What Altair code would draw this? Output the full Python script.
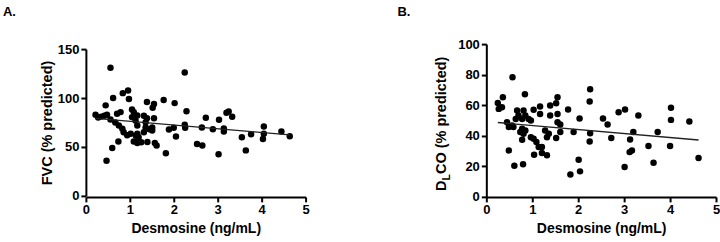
import altair as alt
import pandas as pd

# Panel A: FVC (% predicted) against plasma desmosine (ng/mL)
fvc_desmosine = [0.22, 0.28, 0.35, 0.42, 0.48, 0.45, 0.47, 0.56, 0.56, 0.60,
                 0.62, 0.67, 0.71, 0.74, 0.75, 0.79, 0.83, 0.84, 0.86, 0.94,
                 0.96, 0.98, 1.02, 1.05, 1.05, 1.09, 1.09, 1.13, 1.14, 1.17,
                 1.17, 1.17, 1.17, 1.20, 1.26, 1.32, 1.32, 1.36, 1.36, 1.39,
                 1.39, 1.40, 1.45, 1.51, 1.51, 1.52, 1.55, 1.55, 1.57, 1.61,
                 1.77, 1.82, 1.89, 2.00, 2.02, 2.05, 2.25, 2.25, 2.26, 2.29,
                 2.53, 2.65, 2.64, 2.73, 2.89, 3.02, 3.03, 3.14, 3.14, 3.20,
                 3.25, 3.33, 3.55, 3.64, 3.76, 4.03, 4.05, 4.05, 4.45, 4.64]
fvc_pct = [83, 80, 81, 82, 83, 92.5, 36, 131, 78, 49,
           100, 75, 84, 55.5, 72, 85.6, 68.5, 105, 65, 62,
           107.6, 99, 63.4, 88.4, 80.5, 85.6, 55.5, 77, 61.5, 82.2,
           72, 63.4, 54, 60, 54.8, 82, 65, 75.3, 70, 79.4,
           96, 55, 68, 70, 66.8, 90, 94, 79.4, 54, 51.4,
           98, 43.5, 67.8, 69.6, 94.8, 60.6, 126, 72.6, 69.6, 86.6,
           53, 51.4, 69.9, 79.8, 68, 42.5, 77.8, 69, 65.8, 85,
           86.3, 80.9, 60, 46.5, 63, 58.2, 63.4, 70.9, 65.8, 61]

# Panel B: DLCO (% predicted) against plasma desmosine (ng/mL)
dlco_desmosine = [0.25, 0.27, 0.36, 0.34, 0.57, 0.45, 0.49, 0.56, 0.59, 0.49,
                  0.61, 0.80, 0.84, 0.67, 0.70, 0.64, 0.81, 0.85, 0.78, 0.78,
                  0.74, 0.81, 0.85, 0.78, 0.92, 0.97, 1.03, 1.17, 1.17, 0.97,
                  1.03, 1.09, 1.14, 1.21, 1.21, 1.04, 1.32, 1.28, 1.36, 1.32,
                  1.39, 1.52, 1.55, 1.39, 1.55, 1.55, 1.61, 1.61, 1.52, 1.78,
                  1.90, 2.03, 2.01, 2.04, 1.83, 2.26, 2.25, 2.26, 2.25, 2.54,
                  2.64, 2.72, 2.88, 3.02, 3.01, 3.13, 3.12, 3.17, 3.20, 3.31,
                  3.53, 3.64, 3.73, 4.02, 4.02, 4.00, 4.42, 4.62]
dlco_pct = [61.5, 57.6, 65.2, 58.7, 78.3, 48.9, 45.7, 46.7, 45.7, 30.4,
            20.4, 21.3, 67.2, 56.5, 53.3, 51, 56.5, 53.3, 51, 44.6,
            42.4, 41.3, 43.5, 37.4, 51, 50, 57, 59.1, 54.3, 39,
            38, 35.9, 32.6, 32.6, 28.7, 27.6, 27.2, 43.5, 41.3, 39,
            59.8, 61.3, 65.2, 53.3, 54.3, 48.9, 47.4, 42.4, 38.5, 57.2,
            42.4, 51.3, 24.3, 16.7, 14.6, 70.4, 62.4, 41.7, 36.3, 51.3,
            47.4, 38.5, 55.4, 57.2, 19.6, 37.6, 29.3, 30.4, 42.4, 53.3,
            33.3, 22.4, 42.4, 58.3, 50.4, 33.3, 49.3, 25.4]

FONT = "Liberation Sans"
INK = "black"

fvc_df = pd.DataFrame({"desmosine": fvc_desmosine, "value": fvc_pct})
dlco_df = pd.DataFrame({"desmosine": dlco_desmosine, "value": dlco_pct})


def x_enc():
    return alt.X(
        "desmosine:Q",
        scale=alt.Scale(domain=[0, 5], nice=False),
        axis=alt.Axis(values=[0, 1, 2, 3, 4, 5], title="Desmosine (ng/mL)",
                      labelFlush=False, titleFontSize=14, titlePadding=5),
    )


def label_layer(text, x, y, size=13, align="left", angle=0, baseline="middle"):
    return alt.Chart(pd.DataFrame({"t": [text]})).mark_text(
        font=FONT, fontWeight="bold", fontSize=size, color=INK,
        align=align, baseline=baseline, angle=angle,
    ).encode(x=alt.value(x), y=alt.value(y), text="t:N")


def scatter_panel(df, y_domain, y_ticks, y_range, y_title):
    y = alt.Y(
        "value:Q",
        scale=alt.Scale(domain=y_domain, nice=False, range=y_range),
        axis=alt.Axis(values=y_ticks, title=y_title, titleFontSize=14.5,
                      titlePadding=3),
    )
    base = alt.Chart(df).encode(x=x_enc(), y=y)
    pts = base.mark_circle(size=42, color=INK, opacity=1)
    fit = base.transform_regression("desmosine", "value").mark_line(
        color="#222222", strokeWidth=1.4
    )
    return pts, fit


# Panel A
a_pts, a_fit = scatter_panel(fvc_df, [0, 150], [0, 50, 100, 150], [152, 5],
                             "FVC (% predicted)")
panel_a = alt.layer(
    a_pts, a_fit, label_layer("A.", -83, -32)
).properties(width=220, height=153)

# Panel B: y title built from pieces to get the subscript L in DLCO
b_pts, b_fit = scatter_panel(dlco_df, [0, 100], [0, 20, 40, 60, 80, 100],
                             [153, 0], None)
title_y0 = 147
panel_b = alt.layer(
    b_pts, b_fit,
    label_layer("B.", -89, -32),
    label_layer("D", -40, title_y0, size=14.5, angle=270, baseline="alphabetic"),
    label_layer("L", -36, title_y0 - 10.5, size=10.5, angle=270, baseline="alphabetic"),
    label_layer("CO (% predicted)", -40, title_y0 - 16.9, size=14.5, angle=270,
                baseline="alphabetic"),
).properties(width=230, height=153)

chart = alt.hconcat(panel_a, panel_b, spacing=88).properties(
    padding={"left": 3, "top": 6, "right": 0, "bottom": 0}
).configure_view(stroke=None).configure_axis(
    grid=False,
    domainColor=INK, domainWidth=2,
    tickColor=INK, tickWidth=2, tickSize=5,
    labelFont=FONT, labelFontSize=13, labelFontWeight="bold", labelColor=INK,
    labelPadding=2,
    titleFont=FONT, titleFontWeight="bold", titleColor=INK,
)

chart.save("out.html", embed_options={"renderer": "svg", "actions": False})
